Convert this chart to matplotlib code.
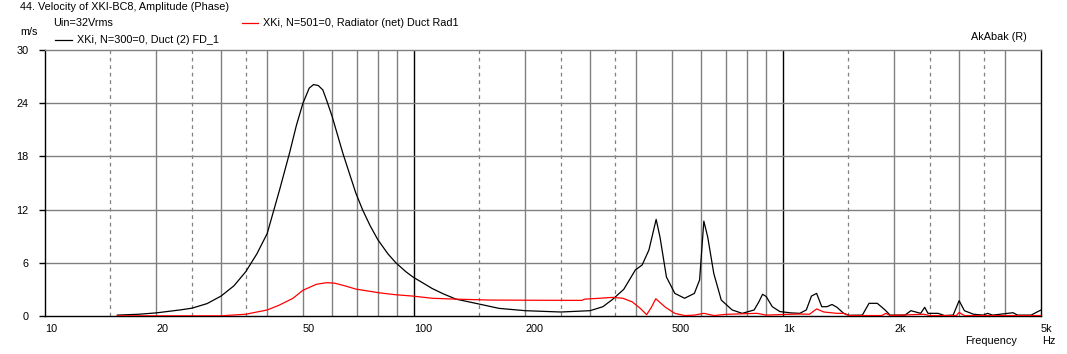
import matplotlib
matplotlib.use("Agg")
import matplotlib.pyplot as plt
from matplotlib.ticker import FixedLocator, NullFormatter

# Duct (2) FD_1 -- black
duct_f = [15.7, 18, 20, 23.2, 25, 27.5, 30, 32.5, 35, 37.5, 40, 43.2, 46, 48, 50, 52, 53.4, 55,
          56.6, 58, 60, 64.2, 69.5, 72.5, 76, 79.8, 85, 89.3, 95, 99.3, 105, 112, 120, 130, 150,
          170, 200, 250, 300, 325, 345, 370, 398, 415, 433, 453, 464, 483, 509, 541, 575, 594,
          603, 610, 625, 649, 680, 728, 775, 835, 860, 880, 900, 935, 980, 1050, 1110, 1156,
          1194, 1233, 1273, 1315, 1357, 1400, 1460, 1507, 1640, 1710, 1800, 1890, 1950, 2140,
          2220, 2360, 2420, 2470, 2630, 2740, 2890, 3000, 3100, 3280, 3490, 3580, 3700, 4200,
          4320, 4700, 5000]
duct_v = [0.1, 0.2, 0.35, 0.68, 0.88, 1.4, 2.25, 3.4, 5.0, 7.0, 9.3, 14.2, 18.4, 21.5, 24.0, 25.7,
          26.1, 26.0, 25.5, 24.3, 22.5, 18.3, 13.9, 12.0, 10.2, 8.6, 7.0, 6.0, 5.0, 4.4, 3.8, 3.1,
          2.5, 1.9, 1.35, 0.86, 0.6, 0.45, 0.6, 1.05, 1.87, 3.0, 5.2, 5.75, 7.44, 10.9, 8.9, 4.4,
          2.55, 2.0, 2.55, 4.06, 7.8, 10.7, 8.9, 4.8, 1.8, 0.68, 0.3, 0.68, 1.6, 2.45, 2.2, 1.05,
          0.5, 0.35, 0.3, 0.68, 2.25, 2.55, 1.05, 1.05, 1.3, 0.98, 0.3, 0.08, 0.1, 1.43, 1.43,
          0.68, 0.1, 0.1, 0.6, 0.3, 0.98, 0.3, 0.3, 0.05, 0.1, 1.73, 0.6, 0.2, 0.1, 0.3, 0.1,
          0.37, 0.1, 0.1, 0.68]

# Radiator (net) Duct Rad1 -- red
rad_f = [15.7, 30, 35, 40, 43, 47, 50, 54.3, 58, 61, 65, 69.5, 80, 89, 99, 112, 130, 160, 200,
         285, 290, 318, 345, 368, 390, 410, 427, 440, 452, 480, 509, 541, 575, 610, 650, 700,
         850, 900, 1030, 1110, 1180, 1233, 1290, 1400, 1460, 1507, 1850, 1900, 1950, 2400,
         2500, 2950, 3000, 3100, 5000]
rad_v = [0.02, 0.02, 0.2, 0.68, 1.2, 2.0, 2.9, 3.57, 3.76, 3.7, 3.4, 3.04, 2.63, 2.4, 2.25, 2.0,
         1.9, 1.8, 1.78, 1.76, 1.9, 2.0, 2.1, 2.0, 1.6, 0.87, 0.15, 1.0, 1.95, 0.98, 0.3, 0.05,
         0.1, 0.3, 0.05, 0.19, 0.3, 0.1, 0.19, 0.22, 0.2, 0.8, 0.45, 0.3, 0.3, 0.05, 0.05, 0.3,
         0.05, 0.2, 0.05, 0.05, 0.4, 0.05, 0.05]

x_labels = ["10", "20", "50", "100", "200", "500", "1k", "2k", "5k"]
x_label_pos = [10, 20, 50, 100, 200, 500, 1000, 2000, 5000]
y_ticks = [0, 6, 12, 18, 24, 30]

plt.rcParams["font.family"] = ["Liberation Sans", "DejaVu Sans"]
fs = 7.8

fig = plt.figure(figsize=(10.67, 3.54), dpi=100)
ax = fig.add_axes([45 / 1067, 1 - 316 / 354, (1041 - 45) / 1067, (316 - 50) / 354])
ax.set_xscale("log")
ax.set_xlim(10, 5000)
ax.set_ylim(0, 30)

grid_c = "#808080"
for decade in [10, 100, 1000]:
    for m in range(2, 10):
        f = decade * m
        if f < 5000:
            ax.axvline(f, color=grid_c, lw=1.0, zorder=1)
    for m in [1.5, 2.5, 3.5]:
        ax.axvline(decade * m, color=grid_c, lw=0.9, ls=(0, (3, 3)), zorder=1)
for f in [100, 1000]:
    ax.axvline(f, color="black", lw=1.0, zorder=1)
for y in y_ticks[1:-1]:
    ax.axhline(y, color=grid_c, lw=1.0, zorder=1)

ax.plot(duct_f, duct_v, color="black", lw=0.9, zorder=3)
ax.plot(rad_f, rad_v, color="red", lw=0.9, zorder=3)

for s in ["left", "bottom", "right"]:
    ax.spines[s].set_color("black")
    ax.spines[s].set_linewidth(1.0)
ax.spines["top"].set_color(grid_c)
ax.spines["top"].set_linewidth(1.0)

ax.set_xticks(x_label_pos, x_labels)
ax.xaxis.set_minor_locator(FixedLocator([10, 100, 1000]))
ax.xaxis.set_minor_formatter(NullFormatter())
ax.tick_params(axis="x", which="major", length=0, pad=6, labelsize=fs)
ax.tick_params(axis="x", which="minor", length=4, width=1)
for lab in ax.get_xticklabels():
    lab.set_ha("left")
ax.set_yticks(y_ticks, [str(v) for v in y_ticks])
ax.tick_params(axis="y", length=4, width=1, pad=8, labelsize=fs)

fig.text(20 / 1067, 1 - 7 / 354, "44. Velocity of XKI-BC8, Amplitude (Phase)", fontsize=fs, va="center")
fig.text(53 / 1067, 1 - 23 / 354, "Uin=32Vrms", fontsize=fs, va="center")
fig.text(20 / 1067, 1 - 32 / 354, "m/s", fontsize=fs, va="center")
fig.add_artist(plt.Line2D([55 / 1067, 72 / 1067], [1 - 40 / 354] * 2, color="black", lw=0.9))
fig.text(77 / 1067, 1 - 40 / 354, "XKi, N=300=0, Duct (2) FD_1", fontsize=fs, va="center")
fig.add_artist(plt.Line2D([242 / 1067, 258 / 1067], [1 - 23 / 354] * 2, color="red", lw=0.9))
fig.text(263 / 1067, 1 - 23 / 354, "XKi, N=501=0, Radiator (net) Duct Rad1", fontsize=fs, va="center")
fig.text(971 / 1067, 1 - 37 / 354, "AkAbak (R)", fontsize=fs, va="center")
fig.text(965 / 1067, 1 - 341 / 354, "Frequency", fontsize=fs, va="center")
fig.text(1042 / 1067, 1 - 341 / 354, "Hz", fontsize=fs, va="center")

fig.savefig("out.png", dpi=100, facecolor="white")
